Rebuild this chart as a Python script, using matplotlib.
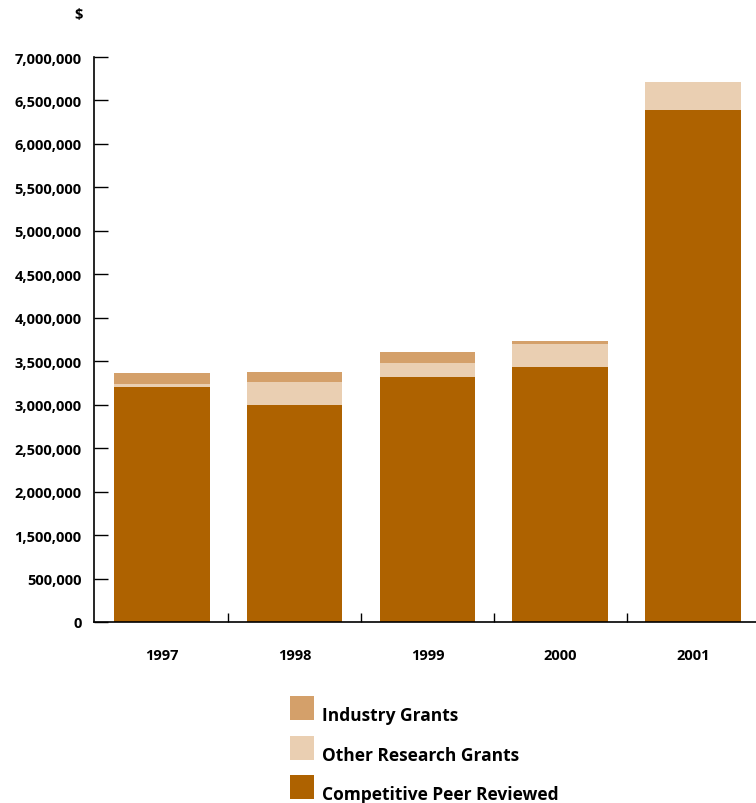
import numpy as np
import matplotlib
matplotlib.use("Agg")
import matplotlib.pyplot as plt
from matplotlib.patches import Rectangle
from matplotlib.ticker import FixedLocator, FuncFormatter

# Research funding by year ($)
years = ["1997", "1998", "1999", "2000", "2001"]
peer_reviewed = [3200000, 3000000, 3320000, 3435000, 6390000]
other_grants = [35000, 265000, 160000, 265000, 322000]
industry_grants = [126000, 115000, 127000, 35000, 0]

# axis labels as printed (the 1,000,000 label is absent in the original)
ytick_vals = [0, 500000, 1500000, 2000000, 2500000, 3000000, 3500000,
              4000000, 4500000, 5000000, 5500000, 6000000, 6500000, 7000000]

legend_labels = ["Industry Grants", "Other Research Grants", "Competitive Peer Reviewed"]

c_peer = "#AE6200"
c_other = "#EACFB2"
c_ind = "#D4A06A"

plt.rcParams['font.family'] = ['Open Sans', 'DejaVu Sans']
plt.rcParams['font.weight'] = 'bold'


# the printed axis has equal spacing between its labels, so the
# 500,000 -> 1,500,000 gap is squeezed into one step
def fwd(v):
    v = np.asarray(v, dtype=float)
    return np.where(v <= 5e5, v, np.where(v <= 1.5e6, 5e5 + (v - 5e5) / 2, v - 5e5))


def inv(u):
    u = np.asarray(u, dtype=float)
    return np.where(u <= 5e5, u, np.where(u <= 1e6, 5e5 + 2 * (u - 5e5), u + 5e5))


W, H = 756, 804
fig = plt.figure(figsize=(W / 100, H / 100), dpi=100)
ax = fig.add_axes([94 / W, 181 / H, 1 - 94 / W, 565 / H])
ax.set_yscale('function', functions=(fwd, inv))

x = np.arange(len(years))
peer = np.array(peer_reviewed)
other = np.array(other_grants)
ind = np.array(industry_grants)
w = 0.72
ax.bar(x, peer, w, color=c_peer, linewidth=0)
ax.bar(x, other, w, bottom=peer, color=c_other, linewidth=0)
ax.bar(x, ind, w, bottom=peer + other, color=c_ind, linewidth=0)

ax.set_ylim(0, 7000000)
ax.set_xlim(-0.511, 4.474)

ax.yaxis.set_major_locator(FixedLocator(ytick_vals))
ax.yaxis.set_minor_locator(FixedLocator([]))
ax.yaxis.set_major_formatter(FuncFormatter(lambda v, p: f"{int(round(v)):,}"))
ax.tick_params(axis='y', direction='in', length=10, width=1.0, pad=9, labelsize=10.5)

ax.set_xticks(x)
ax.set_xticklabels(years)
ax.set_xticks(x[:-1] + 0.5, minor=True)
ax.tick_params(axis='x', which='major', length=0, pad=18.5, labelsize=10.5)
ax.tick_params(axis='x', which='minor', direction='in', length=6.5, width=1.0)

for s in ['top', 'right']:
    ax.spines[s].set_visible(False)
for s in ['left', 'bottom']:
    ax.spines[s].set_linewidth(1.2)

fig.text(79 / W, 1 - 15 / H, "$", ha='center', va='center', fontsize=10.5)

# legend: squares with text baseline on the square's bottom edge
leg_colors = [c_ind, c_other, c_peer]
leg_tops = [697, 737, 776]
for lab, col, top in zip(legend_labels, leg_colors, leg_tops):
    fig.add_artist(Rectangle((290 / W, 1 - (top + 24) / H), 24 / W, 24 / H,
                             transform=fig.transFigure, facecolor=col, linewidth=0))
    fig.text(322 / W, 1 - (top + 24) / H, lab, ha='left', va='baseline', fontsize=12.5)

fig.savefig("out.png", dpi=100)
